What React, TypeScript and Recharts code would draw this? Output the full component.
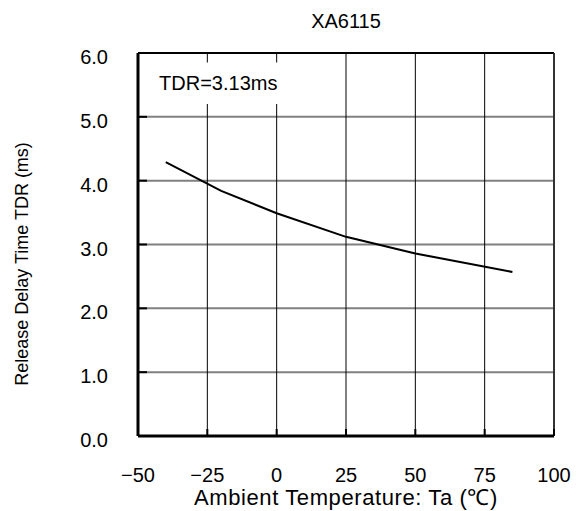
import {
  LineChart,
  Line,
  XAxis,
  YAxis,
  CartesianGrid,
  ReferenceLine,
  ReferenceArea,
} from "recharts";

// measured points (Ta in degC, TDR in ms)
const temps = [-40, -20, 0, 25, 50, 85];
const tdr = [4.29, 3.84, 3.49, 3.12, 2.86, 2.57];

const xTicks = [-50, -25, 0, 25, 50, 75, 100];
const yTicks = [0, 1, 2, 3, 4, 5, 6];

const title = "XA6115";
const note = "TDR=3.13ms";
const xTitle = "Ambient Temperature: Ta (\u2103)";
const yTitle = "Release Delay Time TDR (ms)";

const data = temps.map((t, i) => ({ ta: t, tdr: tdr[i] }));

const fmtX = (v: number) => (v < 0 ? "\u2212" + Math.abs(v) : String(v));

function XTick(props: any) {
  const { x, y, payload } = props;
  return (
    <g>
      <line x1={x} x2={x} y1={y} y2={y - 7} stroke="#000" strokeWidth={2} />
      <text x={x} y={y + 46} textAnchor="middle" fontSize={20} fill="#000">
        {fmtX(payload.value)}
      </text>
    </g>
  );
}

function YTick(props: any) {
  const { x, y, payload } = props;
  return (
    <g>
      <line x1={x} x2={x + 9} y1={y} y2={y} stroke="#000" strokeWidth={2} />
      <text x={x - 30} y={y + 11} textAnchor="end" fontSize={20} fill="#000">
        {Number(payload.value).toFixed(1)}
      </text>
    </g>
  );
}

function App() {
  return (
    <div
      style={{
        position: "absolute",
        left: 0,
        top: 0,
        fontFamily: "'Liberation Sans', Arial, sans-serif",
        background: "#fff",
      }}
    >
      <LineChart
        width={576}
        height={511}
        data={data}
        margin={{ top: 53, right: 22, left: 0, bottom: 0 }}
      >
        <CartesianGrid horizontal={true} vertical={false} stroke="#808080" strokeWidth={2} />
        <CartesianGrid horizontal={false} vertical={true} stroke="#000" strokeWidth={1} />
        <ReferenceArea
          x1={-46}
          x2={5}
          y1={5.2}
          y2={5.85}
          fill="#fff"
          fillOpacity={1}
          stroke="none"
          label={{ value: note, position: "insideLeft", offset: 10, fontSize: 20, fill: "#000" }}
        />
        <XAxis
          dataKey="ta"
          type="number"
          domain={[-50, 100]}
          ticks={xTicks}
          height={75}
          tickSize={0}
          tickMargin={0}
          tickLine={false}
          tick={<XTick />}
          axisLine={{ stroke: "#000", strokeWidth: 3 }}
          label={{
            value: xTitle,
            position: "insideBottom",
            offset: 6,
            fontSize: 22,
            letterSpacing: 0.6,
            fill: "#000",
          }}
        />
        <YAxis
          type="number"
          domain={[0, 6]}
          ticks={yTicks}
          width={138}
          tickSize={0}
          tickMargin={0}
          tickLine={false}
          tick={<YTick />}
          axisLine={{ stroke: "#000", strokeWidth: 3 }}
          label={{
            value: yTitle,
            content: () => (
              <text
                x={28}
                y={264}
                transform="rotate(-90, 28, 264)"
                textAnchor="middle"
                fontSize={18}
                fill="#000"
              >
                {yTitle}
              </text>
            ),
          }}
        />
        <ReferenceLine
          y={6}
          stroke="#000"
          strokeWidth={2}
          label={{ value: title, position: "top", offset: 25, fontSize: 20, fill: "#000" }}
        />
        <ReferenceLine x={100} stroke="#333" strokeWidth={2} />
        <Line
          type="linear"
          dataKey="tdr"
          stroke="#000"
          strokeWidth={2}
          dot={false}
          isAnimationActive={false}
        />
      </LineChart>
    </div>
  );
}

export default App;
